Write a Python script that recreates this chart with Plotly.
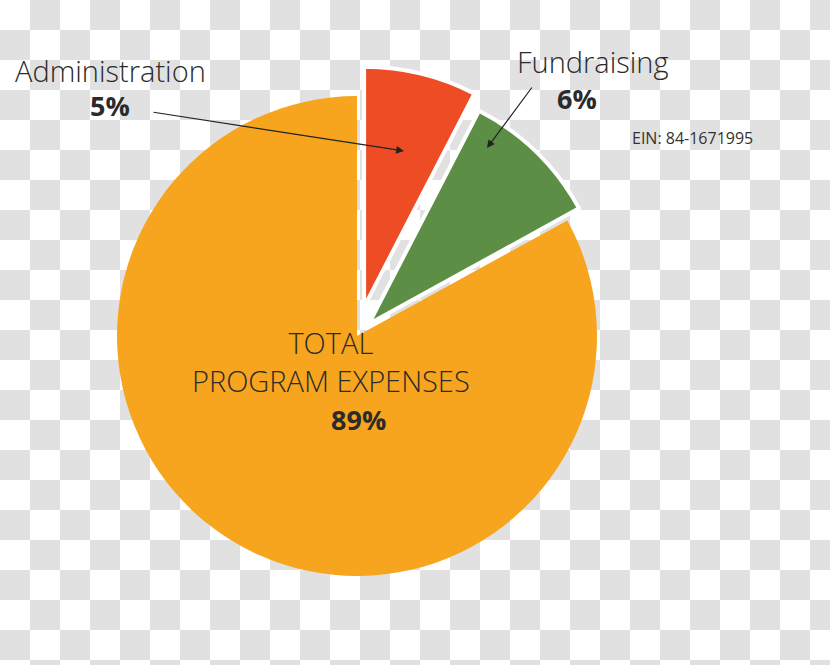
import base64
import plotly.graph_objects as go

# ---- data ----
categories = ["Administration", "Fundraising", "TOTAL<br>PROGRAM EXPENSES"]
pct_labels = [5, 6, 89]                 # percentages printed on the chart
slice_values = [7.6, 9.4, 83.0]         # slice sizes as drawn in the picture
pull_amounts = [0.125, 0.07, 0.0]
slice_colors = ["#EE4C24", "#5C8F45", "#F7A51E"]
ein_text = "EIN: 84-1671995"

W, H = 830, 665

# checkerboard (transparency) backdrop as an SVG pattern
svg = (
    f'<svg xmlns="http://www.w3.org/2000/svg" width="{W}" height="{H}">'
    '<defs><pattern id="c" width="60" height="60" patternUnits="userSpaceOnUse">'
    '<rect width="60" height="60" fill="#ffffff"/>'
    '<rect x="30" y="0" width="30" height="30" fill="#e1e1e1"/>'
    '<rect x="0" y="30" width="30" height="30" fill="#e1e1e1"/>'
    '</pattern></defs>'
    f'<rect width="{W}" height="{H}" fill="url(#c)"/></svg>'
)
svg_uri = "data:image/svg+xml;base64," + base64.b64encode(svg.encode()).decode()

fig = go.Figure()
fig.add_trace(go.Pie(
    labels=categories,
    values=slice_values,
    pull=pull_amounts,
    sort=False,
    direction="clockwise",
    rotation=0,
    textinfo="none",
    hoverinfo="label",
    marker=dict(colors=slice_colors,
                line=dict(color=["#ffffff", "#ffffff", "rgba(0,0,0,0)"], width=[4, 4, 0])),
    domain=dict(x=[(357 - 270) / W, (357 + 270) / W],
                y=[(H - 336 - 270) / H, (H - 336 + 270) / H]),
    showlegend=False,
))

font_light = dict(family="Open Sans", size=29, color="#2b2b2b", weight=300)
font_bold = dict(family="Open Sans", size=27, color="#2b2b2b", weight=700)

def px(x):
    return x / W

def py(y):
    return 1 - y / H

annotations = [
    dict(x=px(110), y=py(70), text=categories[0], font=font_light, showarrow=False),
    dict(x=px(110), y=py(105), text=f"{pct_labels[0]}%", font=font_bold, showarrow=False),
    dict(x=px(593), y=py(62), text=categories[1], font=font_light, showarrow=False),
    dict(x=px(577), y=py(98), text=f"{pct_labels[1]}%", font=font_bold, showarrow=False),
    dict(x=px(692), y=py(138), text=ein_text,
         font=dict(family="Open Sans", size=16, color="#333333"), showarrow=False),
    dict(x=px(331), y=py(362), text=categories[2], font=font_light, showarrow=False,
         align="center"),
    dict(x=px(358), y=py(419), text=f"{pct_labels[2]}%", font=font_bold, showarrow=False),
    # arrows
    dict(x=px(404), y=py(151), ax=152 - 404, ay=112 - 151, axref="pixel", ayref="pixel",
         text="", showarrow=True, arrowhead=2,
         arrowsize=1.3, arrowwidth=1.2, arrowcolor="#222222"),
    dict(x=px(487), y=py(148), ax=533 - 487, ay=86 - 148, axref="pixel", ayref="pixel",
         text="", showarrow=True, arrowhead=2,
         arrowsize=1.3, arrowwidth=1.2, arrowcolor="#222222"),
]
for a in annotations:
    a.setdefault("xref", "paper")
    a.setdefault("yref", "paper")
    a.setdefault("xanchor", "center")
    a.setdefault("yanchor", "middle")

fig.update_layout(
    width=W, height=H,
    margin=dict(l=0, r=0, t=0, b=0),
    paper_bgcolor="#ffffff",
    plot_bgcolor="rgba(0,0,0,0)",
    annotations=annotations,
    images=[dict(source=svg_uri, xref="paper", yref="paper", x=0, y=1,
                 sizex=1, sizey=1, xanchor="left", yanchor="top",
                 sizing="stretch", layer="below")],
)

fig.write_html("out.html", config={"displayModeBar": False},
               post_script="document.body.style.margin='0';")
